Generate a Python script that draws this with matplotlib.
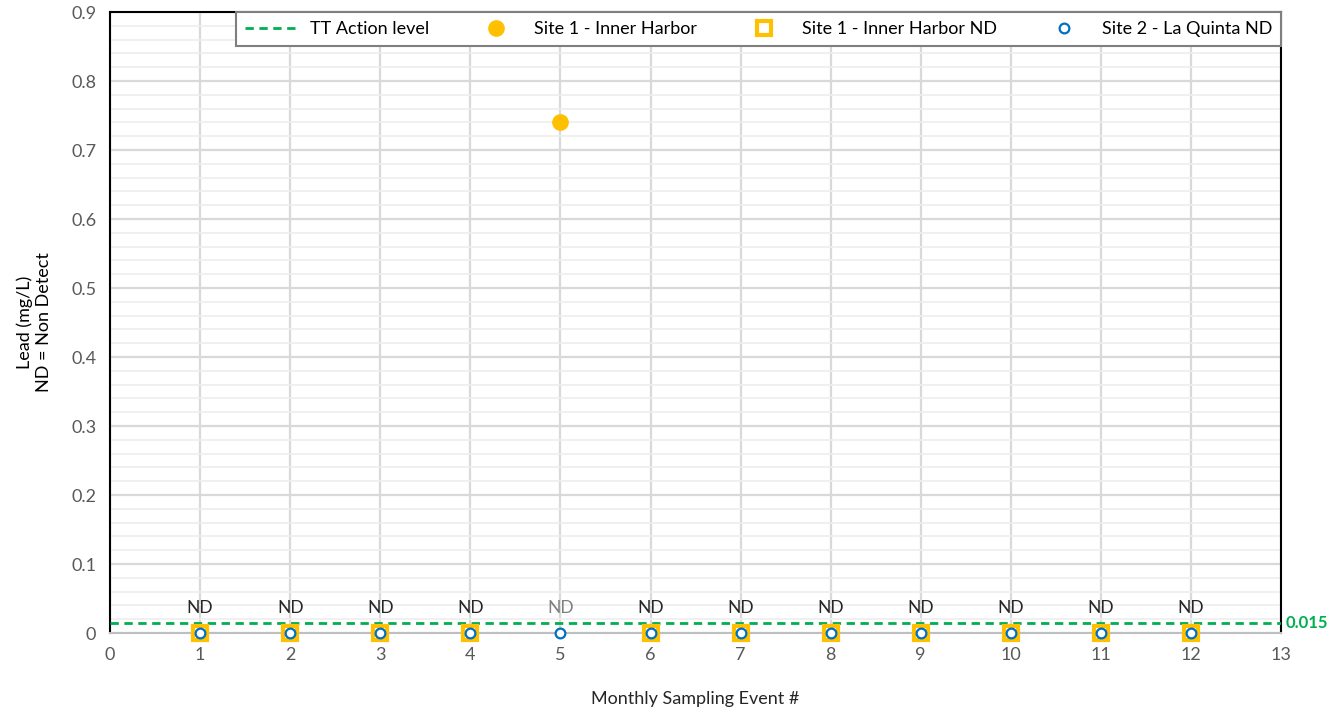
import matplotlib.pyplot as plt
from matplotlib.ticker import MultipleLocator

plt.rcParams['font.family'] = ['Lato', 'DejaVu Sans']

events = [1, 2, 3, 4, 5, 6, 7, 8, 9, 10, 11, 12]
site1_x = [5]
site1_y = [0.74]
site1_nd_x = [1, 2, 3, 4, 6, 7, 8, 9, 10, 11, 12]
site1_nd_y = [0, 0, 0, 0, 0, 0, 0, 0, 0, 0, 0]
site2_nd_x = [1, 2, 3, 4, 5, 6, 7, 8, 9, 10, 11, 12]
site2_nd_y = [0, 0, 0, 0, 0, 0, 0, 0, 0, 0, 0, 0]
action_level = 0.015

fig = plt.figure(figsize=(13.39, 7.19), dpi=100)
ax = fig.add_axes([0.0822, 0.1196, 0.8745, 0.8637])

ax.set_xlim(0, 13)
ax.set_ylim(0, 0.9)
ax.xaxis.set_major_locator(MultipleLocator(1))
ax.yaxis.set_major_locator(MultipleLocator(0.1))
ax.yaxis.set_minor_locator(MultipleLocator(0.02))
ax.grid(which='major', color='#d9d9d9', lw=1.6)
ax.grid(which='minor', axis='y', color='#eeeeee', lw=1.2)
ax.set_axisbelow(True)

ax.axhline(action_level, color='#00b050', ls=(0, (3, 2)), lw=2, label='TT Action level', zorder=3)
ax.plot(site1_x, site1_y, 'o', color='#ffc000', ms=11, label='Site 1 - Inner Harbor', zorder=4)
ax.plot(site1_nd_x, site1_nd_y, 's', mfc='white', mec='#ffc000', mew=3, ms=9.5,
        label='Site 1 - Inner Harbor ND', zorder=4, clip_on=False)
ax.plot(site2_nd_x, site2_nd_y, 'o', mfc='white', mec='#0070c0', mew=1.6, ms=7,
        label='Site 2 - La Quinta ND', zorder=5, clip_on=False)

for x in events:
    c = '#7f7f7f' if x in site1_x else '#262626'
    ax.text(x, 0.025, 'ND', ha='center', va='bottom', fontsize=12.5, color=c)

ax.text(13.05, action_level, '0.015', color='#00b050', fontsize=12, fontweight='bold',
        va='center', ha='left')

for s in ['left', 'right', 'top']:
    ax.spines[s].set_color('black')
    ax.spines[s].set_linewidth(1.5)
ax.spines['bottom'].set_color('#bfbfbf')
ax.spines['bottom'].set_linewidth(1.5)
ax.tick_params(which='both', length=0, colors='#595959', labelsize=13, pad=10)
ax.set_yticks([0, 0.1, 0.2, 0.3, 0.4, 0.5, 0.6, 0.7, 0.8, 0.9],
              ['0', '0.1', '0.2', '0.3', '0.4', '0.5', '0.6', '0.7', '0.8', '0.9'])

ax.set_xlabel('Monthly Sampling Event #', fontsize=13, color='#262626', labelpad=20)
ax.set_ylabel('Lead (mg/L)\nND = Non Detect', fontsize=13, color='black', labelpad=14)

leg = ax.legend(loc='upper right', bbox_to_anchor=(1.0, 1.0), ncol=4, fontsize=13,
                frameon=True, fancybox=False, framealpha=1, edgecolor='#7f7f7f',
                borderpad=0.5, columnspacing=2.2, handlelength=3.0, handletextpad=0.6,
                borderaxespad=0)
leg.get_frame().set_linewidth(1.5)

fig.savefig('out.png', dpi=100)
